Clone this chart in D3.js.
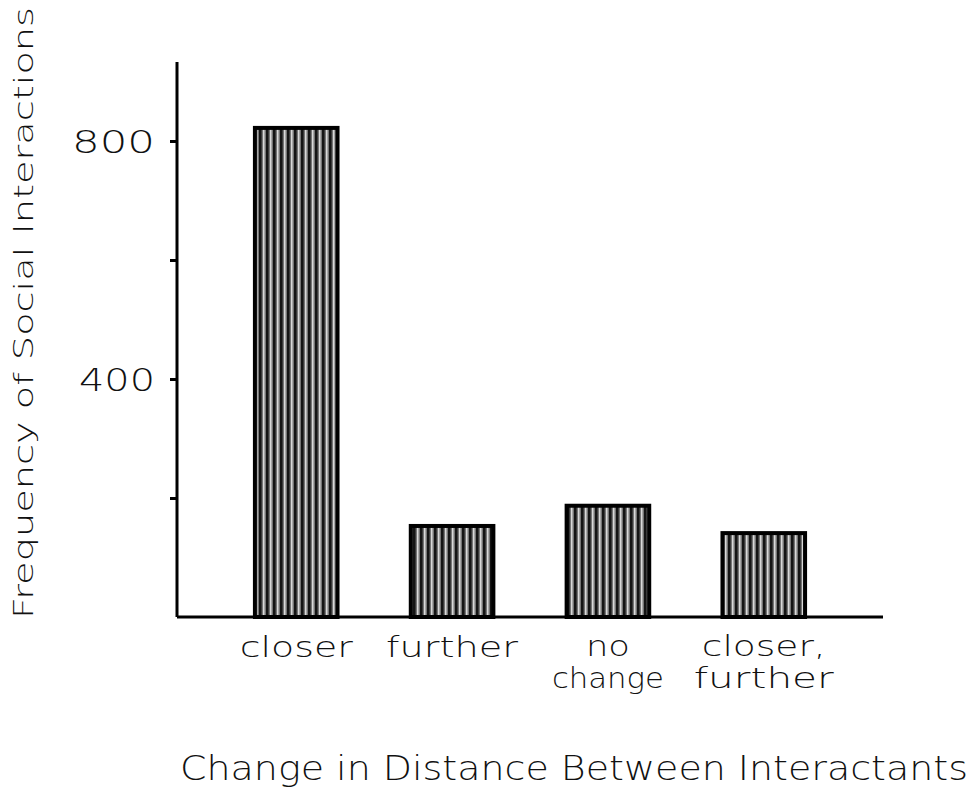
<!DOCTYPE html>
<html>
<head>
<meta charset="utf-8">
<script src="https://cdn.jsdelivr.net/npm/d3@7"></script>
<style>
  html, body { margin: 0; padding: 0; background: #fff; }
  svg { display: block; }
  text { font-family: "DejaVu Sans", sans-serif; fill: #111; }
</style>
</head>
<body>
<svg id="chart" width="979" height="787"></svg>
<script>
// ---- data ----
const categories = ["closer", "further", "no change", "closer, further"];
const categoryLines = [["closer"], ["further"], ["no", "change"], ["closer,", "further"]];
const values = [822, 153, 187, 141];
const tickValues = [200, 400, 600, 800];
const tickLabels = ["", "400", "", "800"];
const yTitle = "Frequency of Social Interactions";
const xTitle = "Change in Distance Between Interactants";

// ---- layout ----
const axisX = 177, baseY = 617, topY = 62, rightX = 883;
const svg = d3.select("#chart");

const y = d3.scaleLinear().domain([0, 800]).range([baseY, 141]);
const x = d3.scaleBand().domain(categories).range([axisX, rightX])
  .paddingInner(0.47).paddingOuter(0.5);

// stripe pattern
const defs = svg.append("defs");
const pat = defs.append("pattern").attr("id", "stripes")
  .attr("patternUnits", "userSpaceOnUse").attr("width", 7).attr("height", 10);
pat.append("rect").attr("width", 7).attr("height", 10).attr("fill", "#747474");
pat.append("rect").attr("x", 0).attr("width", 2.6).attr("height", 10).attr("fill", "#141414");
pat.append("rect").attr("x", 4.2).attr("width", 1.2).attr("height", 10).attr("fill", "#f2f2f2");

// bars
svg.append("g").selectAll("rect").data(values).join("rect")
  .attr("x", (d, i) => x(categories[i]))
  .attr("y", d => y(d))
  .attr("width", x.bandwidth())
  .attr("height", d => baseY - y(d))
  .attr("fill", "url(#stripes)")
  .attr("stroke", "#000").attr("stroke-width", 4);

// y axis
const yAxis = d3.axisLeft(y).tickValues(tickValues).tickSize(7).tickFormat(() => "");
const gy = svg.append("g").attr("transform", `translate(${axisX},0)`).call(yAxis);
gy.select(".domain").remove();
gy.selectAll(".tick line").attr("stroke", "#000").attr("stroke-width", 3);
svg.append("line").attr("x1", axisX).attr("x2", axisX).attr("y1", topY).attr("y2", baseY)
  .attr("stroke", "#000").attr("stroke-width", 3);

// tick labels
const tickLabelWidths = { "400": 76, "800": 83 };
tickValues.forEach((v, i) => {
  const lab = tickLabels[i];
  if (!lab) return;
  svg.append("text")
    .attr("x", 155).attr("y", y(v) + 12)
    .attr("text-anchor", "end")
    .attr("font-size", 32).attr("font-weight", 300)
    .attr("textLength", tickLabelWidths[lab]).attr("lengthAdjust", "spacingAndGlyphs")
    .text(lab);
});

// x baseline
svg.append("line").attr("x1", axisX).attr("x2", rightX).attr("y1", baseY).attr("y2", baseY)
  .attr("stroke", "#000").attr("stroke-width", 3);

// category labels
const lineWidths = { "closer": 113, "further": 132, "no": 44, "change": 112, "closer,": 124 };
categoryLines.forEach((lines, i) => {
  const cx = x(categories[i]) + x.bandwidth() / 2;
  lines.forEach((ln, j) => {
    const wdt = (i === 3 && ln === "further") ? 140 : lineWidths[ln];
    svg.append("text")
      .attr("x", cx).attr("y", (lines.length === 1 ? 657 : 656 + j * 32))
      .attr("text-anchor", "middle")
      .attr("font-size", 29).attr("font-weight", 300)
      .attr("textLength", wdt).attr("lengthAdjust", "spacingAndGlyphs")
      .text(ln);
  });
});

// axis titles
svg.append("text")
  .attr("transform", "translate(33,313) rotate(-90)")
  .attr("text-anchor", "middle")
  .attr("font-size", 26).attr("font-weight", 300)
  .attr("textLength", 612).attr("lengthAdjust", "spacingAndGlyphs")
  .text(yTitle);

svg.append("text")
  .attr("x", 574).attr("y", 780)
  .attr("text-anchor", "middle")
  .attr("font-size", 34).attr("font-weight", 300)
  .attr("textLength", 788).attr("lengthAdjust", "spacingAndGlyphs")
  .text(xTitle);
</script>
</body>
</html>
